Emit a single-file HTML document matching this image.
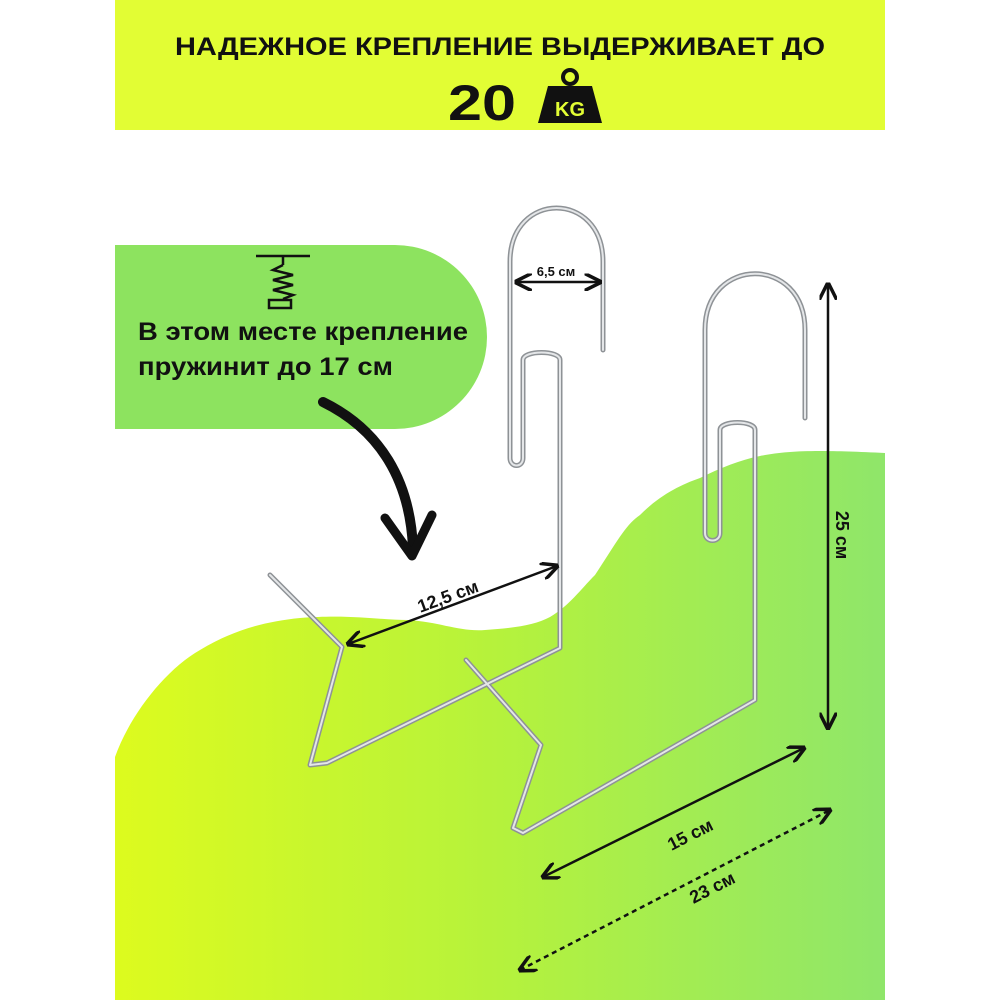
<!DOCTYPE html>
<html><head><meta charset="utf-8"><style>
html,body{margin:0;padding:0;background:#fff;}
svg{display:block}
text{font-family:"Liberation Sans","DejaVu Sans",sans-serif;font-weight:bold;fill:#111}
</style></head><body>
<svg width="1000" height="1000" viewBox="0 0 1000 1000" xmlns="http://www.w3.org/2000/svg">
<defs>
<linearGradient id="g1" x1="0" x2="1" y1="0" y2="0">
<stop offset="0" stop-color="#ddfb1e"/><stop offset="0.5" stop-color="#b5f23c"/><stop offset="1" stop-color="#8fe66a"/>
</linearGradient>
<marker id="ah" viewBox="0 0 10 10" refX="9" refY="5" markerWidth="7" markerHeight="7" orient="auto-start-reverse">
<path d="M0,0 L10,5 L0,10" fill="none" stroke="#111" stroke-width="2"/>
</marker>
</defs>
<!-- banner -->
<rect x="115" y="0" width="770" height="130" fill="#e2fd34"/>
<text x="500" y="55" font-size="25" text-anchor="middle" textLength="650" lengthAdjust="spacingAndGlyphs">НАДЕЖНОЕ КРЕПЛЕНИЕ ВЫДЕРЖИВАЕТ ДО</text>
<text x="448" y="120" font-size="50" textLength="68" lengthAdjust="spacingAndGlyphs">20</text>
<circle cx="570" cy="77" r="7" fill="none" stroke="#111" stroke-width="4"/>
<path d="M548,86 L592,86 L602,123 L538,123 Z" fill="#111"/>
<text x="570" y="116" font-size="20" text-anchor="middle" style="fill:#e2fd34">KG</text>
<!-- pill -->
<path d="M115,245 H395 A92,92 0 0 1 395,429 H115 Z" fill="#8de35f"/>
<!-- spring icon -->
<g stroke="#111" stroke-width="2.5" fill="none">
<line x1="256" y1="256" x2="310" y2="256"/>
<line x1="283" y1="256" x2="283" y2="265"/>
<path d="M283,265 L273,270 L293,275 L273,280 L293,285 L273,290 L293,295 L283,299"/>
<rect x="269" y="300" width="22" height="8"/>
</g>
<text x="138" y="340" font-size="25" textLength="330" lengthAdjust="spacingAndGlyphs">В этом месте крепление</text>
<text x="138" y="375" font-size="25" textLength="255" lengthAdjust="spacingAndGlyphs">пружинит до 17 см</text>
<!-- green blob -->
<path d="M115,1000 L115,757 C130,715 165,670 200,650 C230,632 260,622 300,618 C350,614 380,620 408,620 C440,622 460,632 485,630 C515,628 535,625 550,617 C570,605 580,590 595,575 C615,545 625,525 640,515 C660,495 680,485 700,478 C720,468 740,460 760,456 C790,450 820,450 885,453 L885,1000 Z" fill="url(#g1)"/>
<!-- black curved arrow -->
<path d="M323,402 C380,430 410,480 413,548" fill="none" stroke="#111" stroke-width="10" stroke-linecap="round"/>
<path d="M385,518 L412,556 L432,515" fill="none" stroke="#111" stroke-width="9" stroke-linecap="round" stroke-linejoin="round"/>
<!-- hooks -->
<g fill="none" stroke-linejoin="round" stroke-linecap="round">
<g stroke="#8e9296" stroke-width="5">
<path d="M603,350 L603,262 C603,190 510,190 510,262 L510,458 C510,468 523,468 523,458 L523,360 C523,350 560,350 560,360 L560,648 L327,763 L310,765 L342,647 L270,575"/>
<path d="M805,418 L805,330 C805,255 705,255 705,330 L705,533 C705,543 720,543 720,533 L720,430 C720,420 755,420 755,430 L755,700 L523,833 L513,828 L541,745 L466,660"/>
</g>
<g stroke="#e4e6e8" stroke-width="2">
<path d="M603,350 L603,262 C603,190 510,190 510,262 L510,458 C510,468 523,468 523,458 L523,360 C523,350 560,350 560,360 L560,648 L327,763 L310,765 L342,647 L270,575"/>
<path d="M805,418 L805,330 C805,255 705,255 705,330 L705,533 C705,543 720,543 720,533 L720,430 C720,420 755,420 755,430 L755,700 L523,833 L513,828 L541,745 L466,660"/>
</g>
</g>
<!-- dimension arrows -->
<g stroke="#111" stroke-width="2.5" fill="none">
<line x1="516" y1="282" x2="600" y2="282" marker-start="url(#ah)" marker-end="url(#ah)"/>
<line x1="348" y1="644" x2="557" y2="566" marker-start="url(#ah)" marker-end="url(#ah)"/>
<line x1="828" y1="284" x2="828" y2="728" marker-start="url(#ah)" marker-end="url(#ah)"/>
<line x1="543" y1="877" x2="804" y2="748" marker-start="url(#ah)" marker-end="url(#ah)"/>
<line x1="520" y1="970" x2="830" y2="810" stroke-dasharray="5,4" marker-start="url(#ah)" marker-end="url(#ah)"/>
</g>
<text x="556" y="276" font-size="13" text-anchor="middle">6,5 см</text>
<text x="0" y="0" font-size="18" text-anchor="middle" transform="translate(450,602) rotate(-20)">12,5 см</text>
<text x="0" y="0" font-size="18" text-anchor="middle" transform="translate(836,535) rotate(90)">25 см</text>
<text x="0" y="0" font-size="18" text-anchor="middle" transform="translate(693,840) rotate(-27)">15 см</text>
<text x="0" y="0" font-size="18" text-anchor="middle" transform="translate(715,893) rotate(-27)">23 см</text>
</svg>
</body></html>
